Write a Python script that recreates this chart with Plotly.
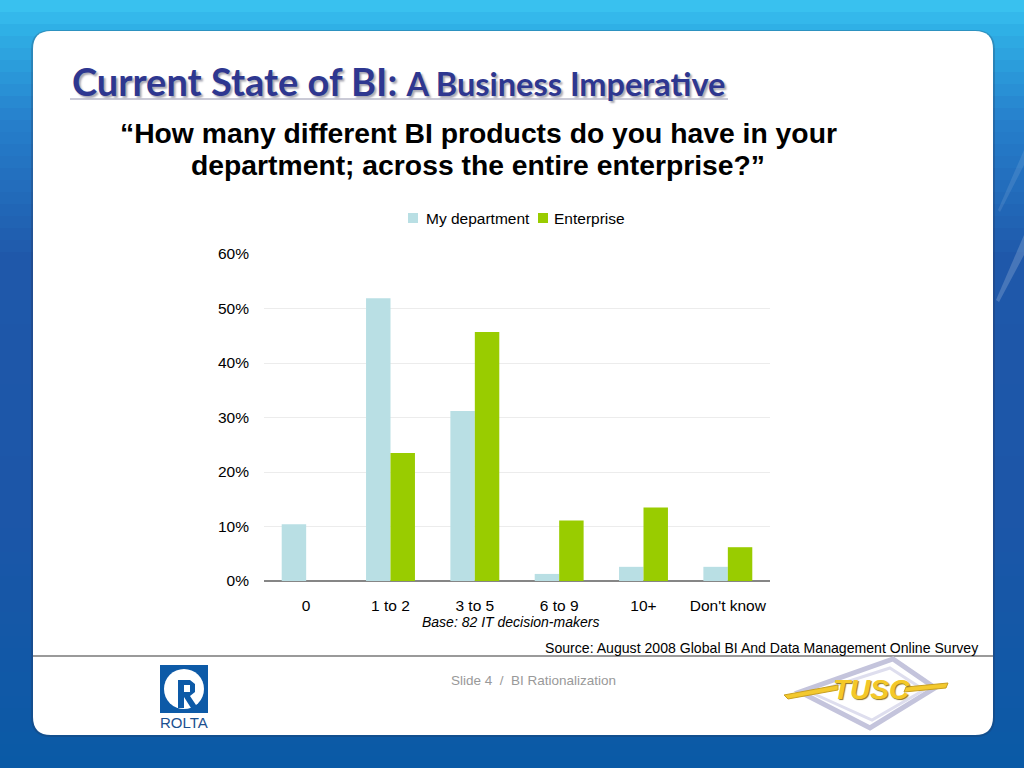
import plotly.graph_objects as go

# ---------------- data ----------------
categories = ["0", "1 to 2", "3 to 5", "6 to 9", "10+", "Don't know"]
my_department = [10.4, 51.9, 31.2, 1.3, 2.6, 2.6]
enterprise = [0.0, 23.5, 45.7, 11.1, 13.5, 6.2]
series_names = ["My department", "Enterprise"]
series_colors = ["#b9dfe4", "#99cc00"]
y_ticks = [0, 10, 20, 30, 40, 50, 60]
y_tick_labels = ["0%", "10%", "20%", "30%", "40%", "50%", "60%"]

W, H = 1024, 768
PL, PR, PT, PB = 264, 770, 254, 581  # plot area in pixels
FONT = "Liberation Sans, Arial, sans-serif"


def px(x, y):
    return (x - PL) / (PR - PL), (PB - y) / (PB - PT)


def hexlerp(c1, c2, t):
    a = [int(c1[i:i + 2], 16) for i in (1, 3, 5)]
    b = [int(c2[i:i + 2], 16) for i in (1, 3, 5)]
    return "#%02x%02x%02x" % tuple(round(a[k] + (b[k] - a[k]) * t) for k in range(3))


def poly(pts):
    return "M" + " L".join("%.5f,%.5f" % px(*p) for p in pts) + " Z"


shapes = []
# background vertical gradient (stripes)
stops = [(0, "#3cc6f2"), (30, "#2fb0e6"), (120, "#2680cc"), (260, "#1f58aa"),
         (520, "#1c56a8"), (768, "#0a5aa6")]
N = 64
for i in range(N):
    y0 = H * i / N
    y1 = H * (i + 1) / N + 1
    ym = (y0 + y1) / 2
    for j in range(len(stops) - 1):
        if stops[j][0] <= ym <= stops[j + 1][0]:
            t = (ym - stops[j][0]) / (stops[j + 1][0] - stops[j][0])
            col = hexlerp(stops[j][1], stops[j + 1][1], t)
            break
    xa, ya = px(0, y0)
    xb, yb = px(W, y1)
    shapes.append(dict(type="rect", xref="paper", yref="paper", x0=xa, x1=xb, y0=ya, y1=yb,
                       fillcolor=col, line=dict(width=0), layer="below"))


def rounded_path(x0, y0, x1, y1, r):
    def P(x, y):
        a, b = px(x, y)
        return f"{a:.5f},{b:.5f}"
    return (f"M{P(x0 + r, y0)} L{P(x1 - r, y0)} Q{P(x1, y0)} {P(x1, y0 + r)} "
            f"L{P(x1, y1 - r)} Q{P(x1, y1)} {P(x1 - r, y1)} L{P(x0 + r, y1)} "
            f"Q{P(x0, y1)} {P(x0, y1 - r)} L{P(x0, y0 + r)} Q{P(x0, y0)} {P(x0 + r, y0)} Z")


# decorative streaks on the right
shapes.append(dict(type="path", xref="paper", yref="paper",
                   path=poly([(1024, 235), (996, 300), (999, 302), (1024, 255)]),
                   fillcolor="rgba(255,255,255,0.18)", line=dict(width=0), layer="below"))
shapes.append(dict(type="path", xref="paper", yref="paper",
                   path=poly([(1024, 150), (998, 210), (1000, 212), (1024, 165)]),
                   fillcolor="rgba(255,255,255,0.10)", line=dict(width=0), layer="below"))

# panel shadow and white panel
shapes.append(dict(type="path", xref="paper", yref="paper", path=rounded_path(31, 30, 995, 737, 20),
                   fillcolor="rgba(40,40,60,0.22)", line=dict(width=0), layer="below"))
shapes.append(dict(type="path", xref="paper", yref="paper", path=rounded_path(33, 31, 993, 735, 18),
                   fillcolor="#ffffff", line=dict(width=0), layer="below"))

# title underline
xa, ya = px(70, 99)
xb, _ = px(728, 99)
shapes.append(dict(type="line", xref="paper", yref="paper", x0=xa, x1=xb, y0=ya, y1=ya,
                   line=dict(color="#b8b8c8", width=1.5)))
# footer separator
xa, ya = px(33, 656)
xb, _ = px(993, 656)
shapes.append(dict(type="line", xref="paper", yref="paper", x0=xa, x1=xb, y0=ya, y1=ya,
                   line=dict(color="#9a9a9a", width=2)))

# ROLTA logo
xa, ya = px(160, 665)
xb, yb = px(208, 713)
shapes.append(dict(type="rect", xref="paper", yref="paper", x0=xa, x1=xb, y0=yb, y1=ya,
                   fillcolor="#0d5aa7", line=dict(width=0)))
xa, ya = px(164, 669)
xb, yb = px(204, 709)
shapes.append(dict(type="circle", xref="paper", yref="paper", x0=xa, x1=xb, y0=yb, y1=ya,
                   fillcolor="#ffffff", line=dict(width=0)))
shapes.append(dict(type="path", xref="paper", yref="paper",
                   path=poly([(178, 680), (190, 680), (195, 684), (195, 692), (190, 696), (198, 708),
                              (191, 708), (184, 697), (184, 708), (178, 708)]),
                   fillcolor="#0d5aa7", line=dict(width=0)))
xa, ya = px(184, 685)
xb, yb = px(190, 692)
shapes.append(dict(type="rect", xref="paper", yref="paper", x0=xa, x1=xb, y0=yb, y1=ya,
                   fillcolor="#ffffff", line=dict(width=0)))

# TUSC logo: tilted silver diamond
for dia, col, w in [([(893, 659), (935, 688), (870, 728), (800, 692)], "#c4c4dc", 5),
                    ([(890, 668), (924, 690), (872, 720), (812, 693)], "#dedeee", 3)]:
    shapes.append(dict(type="path", xref="paper", yref="paper", path=poly(dia),
                       fillcolor="rgba(0,0,0,0)", line=dict(color=col, width=w)))
# yellow swoosh pieces
shapes.append(dict(type="path", xref="paper", yref="paper",
                   path=poly([(784, 695), (838, 685), (838, 690), (788, 699)]),
                   fillcolor="#f3c92e", line=dict(color="#c9a020", width=1)))
shapes.append(dict(type="path", xref="paper", yref="paper",
                   path=poly([(906, 687), (948, 683), (946, 688), (904, 692)]),
                   fillcolor="#f3c92e", line=dict(color="#c9a020", width=1)))

annotations = []


def ann(x, y, text, size, color="#000000", family=FONT, xanchor="center", yanchor="middle",
        bold=False, italic=False, shadow=None):
    a, b = px(x, y)
    if bold:
        text = f"<b>{text}</b>"
    if italic:
        text = f"<i>{text}</i>"
    font = dict(size=size, color=color, family=family)
    if shadow:
        font["shadow"] = shadow
    annotations.append(dict(x=a, y=b, xref="paper", yref="paper", text=text, showarrow=False,
                            xanchor=xanchor, yanchor=yanchor, font=font))


# legend (series swatches + names)
legend_x = [(408, 424), (538, 552)]
for (sx, tx), name, colr in zip(legend_x, series_names, series_colors):
    xa, ya = px(sx, 213)
    xb, yb = px(sx + 10, 223)
    shapes.append(dict(type="rect", xref="paper", yref="paper", x0=xa, x1=xb, y0=yb, y1=ya,
                       fillcolor=colr, line=dict(width=0)))
    ann(tx, 218, name, 15.5, xanchor="left")

title_txt = ("<span style='font-size:38px'>Current State of BI:</span> "
             "<span style='font-size:32.5px'>A Business Imperative</span>")
ann(70, 81, title_txt, 38, color="#2e3790", family="Lato, sans-serif", xanchor="left", bold=True,
    shadow="2px 2px 2px #a8a8b4")

ann(478, 133, "“How many different BI products do you have in your", 28.3, bold=True)
ann(478, 165, "department; across the entire enterprise?”", 28.3, bold=True)

ann(510, 622, "Base: 82 IT decision-makers", 14, italic=True)
ann(981, 648, "Source: August 2008 Global BI And Data Management Online Survey", 14.1, xanchor="right")
ann(533, 680, "Slide 4  /  BI Rationalization", 13.5, color="#999999")
ann(184, 722, "ROLTA", 15, color="#1b4f8f")
ann(871, 689, "<b><i>TUSC</i></b>", 28, color="#f4c828",
    family="Liberation Sans Narrow, Arial Narrow, sans-serif", shadow="1px 1px 1px #8c7420")

fig = go.Figure()
fig.add_trace(go.Bar(name=series_names[0], x=categories, y=my_department,
                     marker=dict(color=series_colors[0], line=dict(width=0))))
fig.add_trace(go.Bar(name=series_names[1], x=categories, y=enterprise,
                     marker=dict(color=series_colors[1], line=dict(width=0))))

fig.update_layout(
    width=W, height=H,
    margin=dict(l=PL, r=W - PR, t=PT, b=H - PB, pad=0),
    paper_bgcolor="#ffffff", plot_bgcolor="rgba(0,0,0,0)",
    barmode="group", bargap=0.42, bargroupgap=0,
    showlegend=False,
    xaxis=dict(showgrid=False, showline=False, zeroline=False, ticks="",
               tickfont=dict(size=15.5, color="#000000", family=FONT),
               ticklabelstandoff=13),
    yaxis=dict(range=[0, 60], tickvals=y_ticks, ticktext=y_tick_labels,
               showgrid=True, gridcolor="#ececec", gridwidth=1,
               zeroline=True, zerolinecolor="#868686", zerolinewidth=2,
               showline=False, ticks="",
               tickfont=dict(size=15.5, color="#000000", family=FONT),
               ticklabelstandoff=14),
    shapes=shapes,
    annotations=annotations,
)

fig.write_html("out.html", config={"displayModeBar": False},
               post_script="document.body.style.margin='0';")
